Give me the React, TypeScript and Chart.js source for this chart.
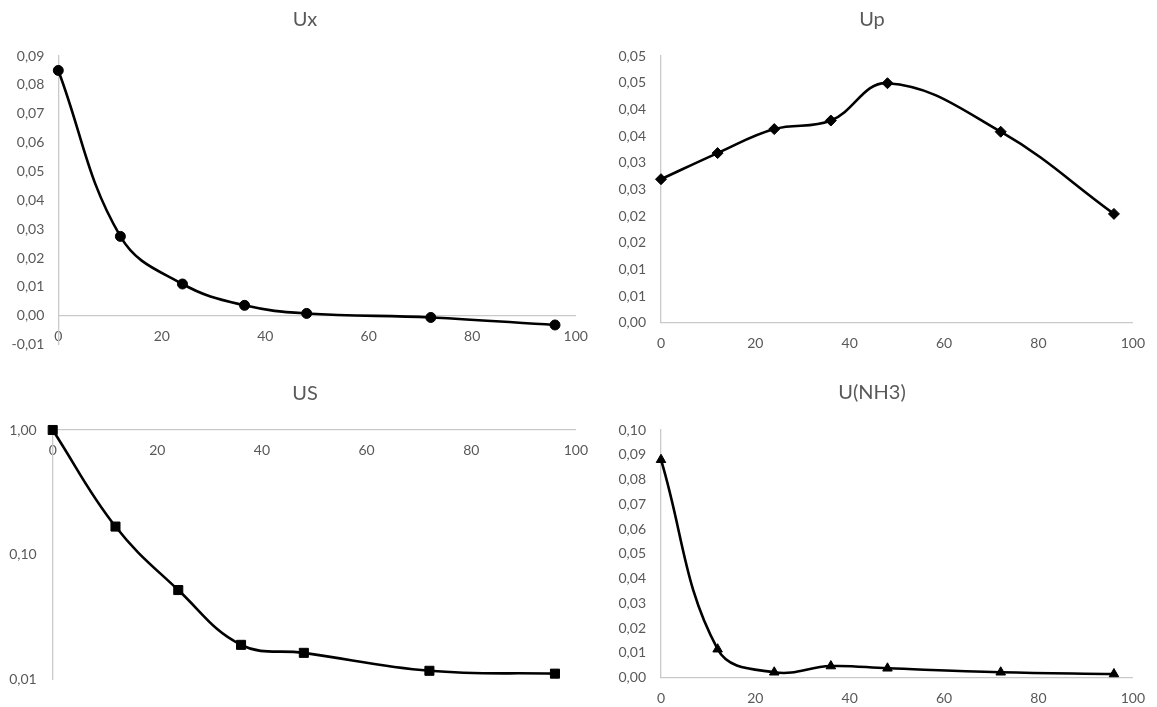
import React, { useEffect, useRef } from 'react';
import { Chart, registerables } from 'chart.js';

Chart.register(...registerables);

// ---- data ----
const HOURS = [0, 12, 24, 36, 48, 72, 96];
const UX = [0.085, 0.0275, 0.011, 0.0036, 0.0008, -0.0006, -0.0032];
const UP = [0.0269, 0.0318, 0.0363, 0.0379, 0.0449, 0.0358, 0.0204];
const US = [1.0, 0.168, 0.052, 0.0189, 0.0163, 0.0117, 0.0111];
const UNH3 = [0.088, 0.0115, 0.0022, 0.0047, 0.0038, 0.0022, 0.0015];
const X_TICK_STEP = 20;
const US_Y_TICKS = [0.01, 0.1, 1];
const TITLES = ['Ux', 'Up', 'US', 'U(NH3)'];

const FONT = "Lato, 'Liberation Sans', sans-serif";
const TEXT = '#595959';
const AXIS = '#c9c9c9';
const TITLE_SIZE = 20;

const fmt = (v: number) => {
  const m = Math.round(v * 1000);
  const r = Math.round(m / 10);
  return (r / 100).toFixed(2).replace('.', ',');
};

type Panel = {
  title: string;
  values: number[];
  pointStyle: string;
  radius: number;
  log: boolean;
  yMin: number;
  yMax: number;
  yStep?: number;
  axisAt: number;
  left: number;
  top: number;
  width: number;
  height: number;
  padB: number;
  yw: number;
  rw: number;
  titleCenter: number;
  plotTop: number;
  yPad: number;
};

const PANELS: Panel[] = [
  {
    title: TITLES[0], values: UX, pointStyle: 'circle', radius: 5, log: false,
    yMin: -0.01, yMax: 0.09, yStep: 0.01, axisAt: 0,
    left: 0, top: 0, width: 610, height: 367, padB: 22.1, yw: 58.3, rw: 34.3,
    titleCenter: 20, plotTop: 56, yPad: 14,
  },
  {
    title: TITLES[1], values: UP, pointStyle: 'rectRot', radius: 5.5, log: false,
    yMin: 0, yMax: 0.05, yStep: 0.005, axisAt: 0,
    left: 587, top: 0, width: 570, height: 355, padB: 32.3, yw: 74, rw: 15,
    titleCenter: 20, plotTop: 56, yPad: 15,
  },
  {
    title: TITLES[2], values: US, pointStyle: 'rect', radius: 6.4, log: true,
    yMin: 0.01, yMax: 1, axisAt: 1,
    left: 0, top: 360, width: 610, height: 347, padB: 27.7, yw: 52.7, rw: 34.1,
    titleCenter: 33.3, plotTop: 70, yPad: 16,
  },
  {
    title: TITLES[3], values: UNH3, pointStyle: 'triangle', radius: 5.5, log: false,
    yMin: 0, yMax: 0.1, yStep: 0.01, axisAt: 0,
    left: 587, top: 360, width: 570, height: 347, padB: 29.3, yw: 74, rw: 15,
    titleCenter: 32.5, plotTop: 70, yPad: 15,
  },
];

function PanelChart({ p }: { p: Panel }) {
  const ref = useRef<HTMLCanvasElement | null>(null);
  useEffect(() => {
    if (!ref.current) return;
    const data = HOURS.map((h, i) => ({ x: h, y: p.values[i] }));
    const lh = TITLE_SIZE * 1.2;
    const titleTop = p.titleCenter - lh / 2;
    const titleBottom = p.plotTop - titleTop - lh;
    const yScale: any = {
      type: p.log ? 'logarithmic' : 'linear',
      position: 'left',
      min: p.yMin,
      max: p.yMax,
      grid: { display: false, drawTicks: false, tickLength: 0 },
      border: { display: true, color: AXIS, width: 1.3 },
      ticks: {
        color: TEXT,
        font: { family: FONT, size: 14 },
        padding: p.yPad,
        autoSkip: false,
        callback: (v: any) => fmt(Number(v)),
      },
      afterFit: (s: any) => { s.width = p.yw; },
    };
    if (p.yStep) yScale.ticks.stepSize = p.yStep;
    if (p.log) {
      yScale.afterBuildTicks = (s: any) => { s.ticks = US_Y_TICKS.map((v) => ({ value: v })); };
    }
    const chart = new Chart(ref.current, {
      type: 'line',
      data: {
        datasets: [{
          data,
          yAxisID: 'y',
          xAxisID: 'x',
          borderColor: '#000000',
          backgroundColor: '#000000',
          borderWidth: 2.6,
          tension: 0.4,
          pointStyle: p.pointStyle as any,
          pointRadius: p.radius,
          pointBackgroundColor: '#000000',
          pointBorderColor: '#000000',
          pointBorderWidth: 1,
          clip: false as any,
          fill: false,
        }],
      },
      options: {
        animation: false,
        responsive: false,
        devicePixelRatio: 1,
        layout: { padding: { left: 0, right: 0, top: 0, bottom: p.padB } },
        plugins: {
          legend: { display: false },
          tooltip: { enabled: false },
          title: {
            display: true,
            text: p.title,
            color: TEXT,
            font: { family: FONT, size: TITLE_SIZE, weight: 'normal' as any },
            padding: { top: titleTop, bottom: titleBottom },
          },
        },
        scales: {
          x: {
            type: 'linear',
            position: { y: p.axisAt } as any,
            min: 0,
            max: 100,
            grid: { display: false, drawTicks: false, tickLength: 0 },
            border: { display: true, color: AXIS, width: 1.3 },
            ticks: {
              stepSize: X_TICK_STEP,
              color: TEXT,
              font: { family: FONT, size: 14 },
              padding: 12,
              maxRotation: 0,
              autoSkip: false,
            },
          },
          y: yScale,
          yR: {
            type: 'linear',
            position: 'right',
            display: true,
            grid: { display: false, drawTicks: false },
            border: { display: false },
            ticks: { display: false },
            afterFit: (s: any) => { s.width = p.rw; },
          } as any,
        },
      },
    });
    return () => chart.destroy();
  }, [p]);
  return (
    <canvas
      ref={ref}
      width={p.width}
      height={p.height}
      style={{ position: 'absolute', left: p.left, top: p.top, width: p.width, height: p.height }}
    />
  );
}

export default function App() {
  return (
    <div style={{ position: 'fixed', left: 0, top: 0, width: 1157, height: 707, background: '#ffffff', overflow: 'hidden' }}>
      {PANELS.map((p) => <PanelChart key={p.title} p={p} />)}
    </div>
  );
}
